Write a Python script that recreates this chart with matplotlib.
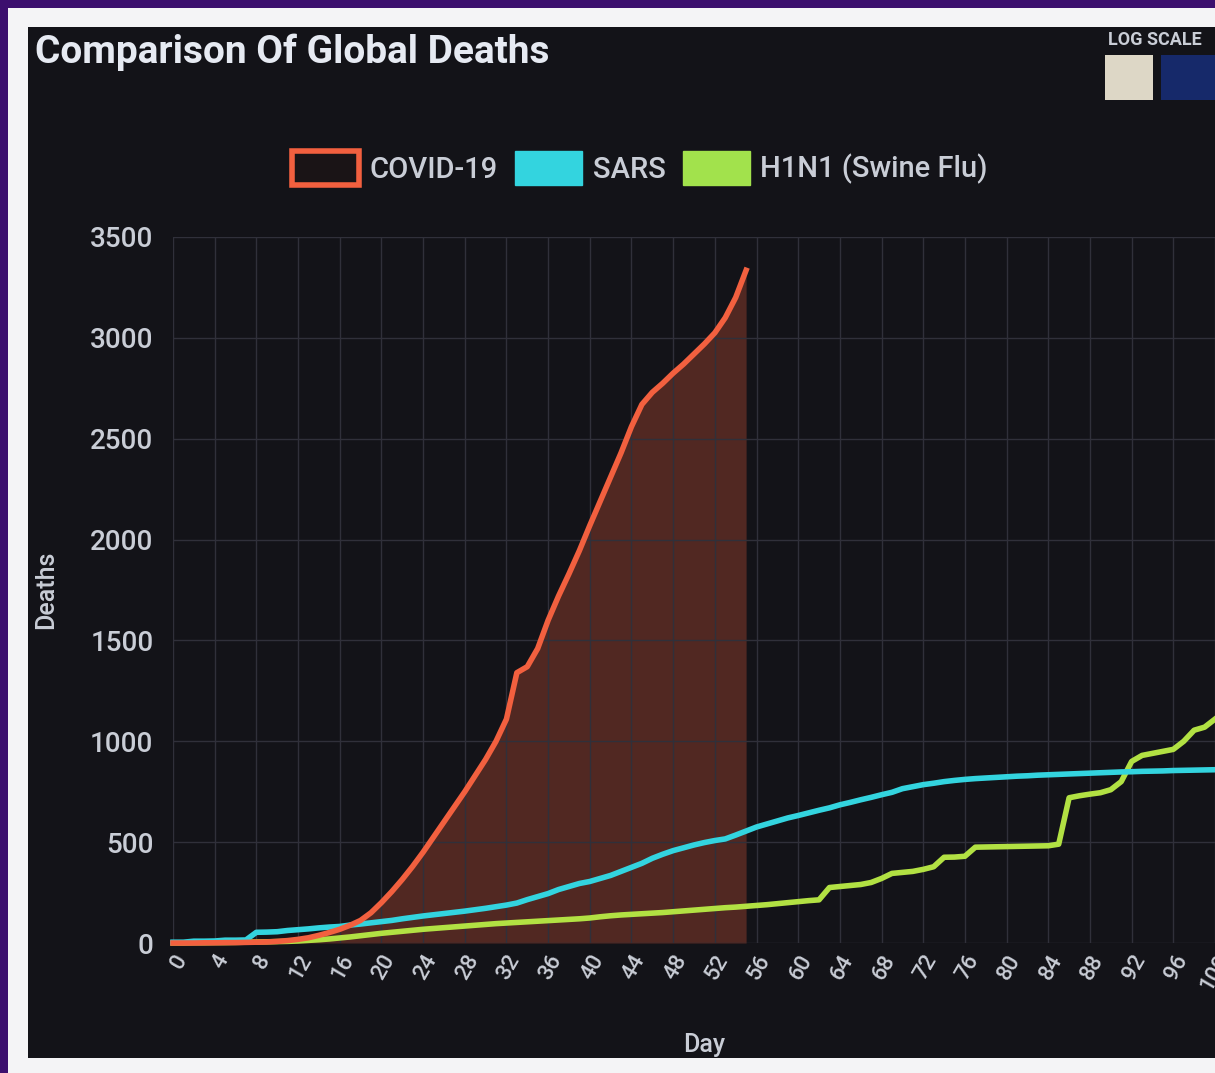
import matplotlib.pyplot as plt
from matplotlib.patches import Rectangle, Patch

# values (deaths per day since first case)
days = list(range(101))
covid = [0, 0, 0, 1, 1, 2, 2, 3, 4, 5, 8, 12, 18, 26, 38, 52, 68, 88, 112, 150,
         200, 255, 315, 380, 450, 525, 600, 675, 750, 830, 910, 1000, 1110, 1340, 1370, 1460,
         1600, 1720, 1830, 1945, 2070, 2190, 2310, 2430, 2560, 2670, 2730, 2775, 2825, 2870,
         2920, 2970, 3025, 3100, 3200, 3335]
sars = [4, 4, 9, 9, 10, 14, 14, 15, 53, 54, 56, 62, 66, 70, 75, 79, 82, 89, 94, 100,
        106, 112, 120, 127, 134, 140, 146, 152, 158, 165, 172, 180, 188, 198, 215, 230,
        245, 265, 280, 295, 305, 320, 335, 355, 375, 395, 420, 440, 458, 472, 486, 498,
        508, 516, 535, 555, 575, 590, 605, 620, 632, 645, 658, 670, 685, 697, 710, 722,
        735, 747, 765, 775, 785, 792, 800, 806, 811, 815, 818, 821, 824, 827, 829, 832,
        834, 836, 838, 840, 842, 844, 846, 848, 849, 851, 852, 853, 855, 856, 857, 858, 859]
h1n1 = [0, 0, 1, 1, 2, 2, 3, 4, 5, 6, 7, 8, 10, 13, 16, 20, 25, 30, 36, 42,
        48, 53, 58, 63, 68, 72, 76, 80, 84, 88, 92, 96, 99, 102, 105, 108, 111, 114, 117, 120,
        124, 130, 135, 139, 142, 145, 148, 151, 155, 159, 163, 167, 171, 175, 178, 182,
        186, 190, 195, 200, 205, 210, 214, 275, 280, 285, 290, 300, 320, 345, 350, 355,
        365, 378, 425, 426, 430, 475, 476, 477, 478, 479, 480, 481, 482, 490, 720, 730,
        738, 745, 760, 800, 900, 930, 940, 950, 960, 1000, 1055, 1070, 1110]
series_names = ['COVID-19', 'SARS', 'H1N1 (Swine Flu)']

c_covid = '#f2603f'
c_sars = '#33d4df'
c_h1n1 = '#b2e143'
txt = '#c9cdd6'

plt.rcParams['font.family'] = ['Roboto', 'DejaVu Sans']

W, H = 1215, 1073
fig = plt.figure(figsize=(W / 100, H / 100), dpi=100, facecolor='#3c0f6e')


def box(x, y, w, h, color, z):
    fig.add_artist(Rectangle((x / W, 1 - (y + h) / H), w / W, h / H,
                             transform=fig.transFigure, color=color, zorder=z, lw=0))


# photo frame: white border and dark screen panel
box(8, 8, W - 8, H - 8, '#f4f4f6', -3)
box(28, 27, W - 28, 1031, '#131318', -2)

fig.text(35 / W, 1 - 52 / H, 'Comparison Of Global Deaths', color='#e6eaf2',
         fontsize=28, fontweight='bold', va='center', ha='left')

# log scale toggle in the corner
fig.text(1108 / W, 1 - 40 / H, 'LOG SCALE', color=txt, fontsize=13,
         fontweight='bold', va='center', ha='left')
box(1105, 55, 48, 45, '#ddd7c6', 4)
box(1161, 55, 60, 45, '#16296a', 4)

ax = fig.add_axes([173 / W, 1 - 943 / H, 1042 / W, 706 / H])
ax.set_facecolor('none')

ax.fill_between(days[:len(covid)], covid, 0, color=c_covid, alpha=0.28, lw=0)
ax.plot(days[:len(covid)], covid, color=c_covid, lw=4, clip_on=False, zorder=5)
ax.plot(days, sars, color=c_sars, lw=4, clip_on=False, zorder=4)
ax.plot(days, h1n1, color=c_h1n1, lw=4, clip_on=False, zorder=3)

ax.set_xlim(0, 100)
ax.set_ylim(0, 3500)
ax.set_xticks(range(0, 101, 4))
ax.set_yticks(range(0, 3501, 500))
ax.grid(color='#30303a', lw=1)
for s in ax.spines.values():
    s.set_visible(False)
ax.tick_params(axis='both', length=0, colors=txt)
ax.tick_params(axis='y', labelsize=20, pad=14)
ax.tick_params(axis='x', labelsize=16, pad=6)
for lab in ax.get_xticklabels():
    lab.set_rotation(60)
    lab.set_ha('right')
    lab.set_rotation_mode('anchor')
    lab.set_fontweight('medium')
for lab in ax.get_yticklabels():
    lab.set_fontweight('medium')

ax.set_ylabel('Deaths', color=txt, fontsize=18, fontweight='medium')
ax.yaxis.set_label_coords(-0.11, 0.5)
ax.set_xlabel('Day', color=txt, fontsize=18, fontweight='medium')
ax.xaxis.set_label_coords(0.51, -0.128)

handles = [Patch(facecolor='#1a1416', edgecolor=c_covid, lw=4),
           Patch(facecolor=c_sars, edgecolor=c_sars),
           Patch(facecolor='#a2e24c', edgecolor='#a2e24c')]
leg = fig.legend(handles, series_names, loc='center', bbox_to_anchor=(640 / W, 1 - 168 / H),
                 ncol=3, frameon=False, fontsize=21, labelcolor=txt,
                 handlelength=2.3, handleheight=1.4, handletextpad=0.35, columnspacing=0.6)
for t in leg.get_texts():
    t.set_fontweight('medium')

fig.savefig('out.png', dpi=100, facecolor=fig.get_facecolor())
